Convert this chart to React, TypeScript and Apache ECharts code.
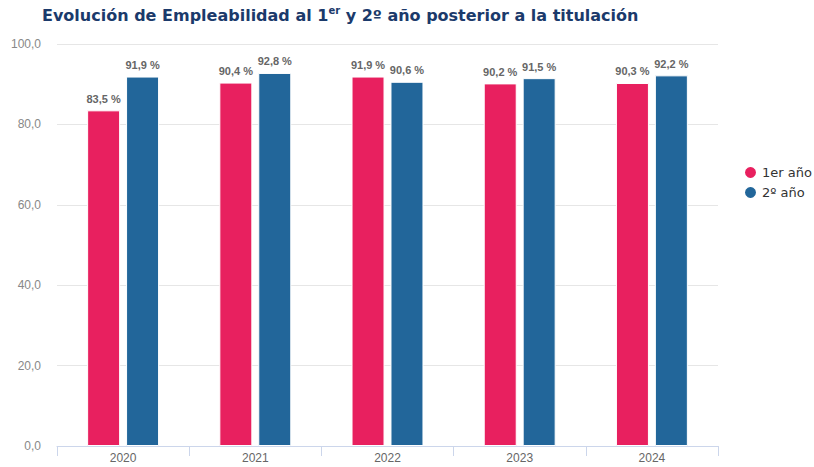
import React, { useEffect, useRef } from "react";
import * as echarts from "echarts";

const categories = ["2020", "2021", "2022", "2023", "2024"];
const firstYear = [83.5, 90.4, 91.9, 90.2, 90.3];
const secondYear = [91.9, 92.8, 90.6, 91.5, 92.2];
const seriesNames = ["1er año", "2º año"];

const fmt = (v: number) => v.toFixed(1).replace(".", ",");

export default function App() {
  const ref = useRef<HTMLDivElement>(null);
  useEffect(() => {
    const chart = echarts.init(ref.current!, null, { renderer: "svg" });
    const label = {
      show: true,
      position: "top" as const,
      distance: 6,
      color: "#666666",
      fontWeight: "bold" as const,
      fontSize: 11,
      fontFamily: "Liberation Sans, Arial, sans-serif",
      formatter: (p: any) => fmt(p.value) + " %",
    };
    chart.setOption({
      animation: false,
      backgroundColor: "#ffffff",
      title: {
        text: "{t|Evolución de Empleabilidad al 1}{s|er}{t| y 2º año posterior a la titulación}",
        left: 37,
        top: 0,
        textStyle: {
          rich: {
            t: {
              fontSize: 16,
              fontWeight: "bold",
              color: "#1b3a6b",
              fontFamily: "DejaVu Sans, Verdana, sans-serif",
              verticalAlign: "bottom",
            },
            s: {
              fontSize: 10,
              fontWeight: "bold",
              color: "#1b3a6b",
              fontFamily: "DejaVu Sans, Verdana, sans-serif",
              verticalAlign: "top",
              padding: [0, 0, 8, 0],
            },
          },
        },
      },
      legend: {
        orient: "vertical",
        left: 738,
        top: 160,
        icon: "circle",
        itemWidth: 13,
        itemHeight: 13,
        itemGap: 5,
        textStyle: {
          color: "#333333",
          fontSize: 13,
          fontFamily: "DejaVu Sans, Verdana, sans-serif",
        },
        data: seriesNames,
      },
      grid: { left: 57, right: 96, top: 44, bottom: 21, containLabel: false },
      xAxis: {
        type: "category",
        data: categories,
        axisLine: { lineStyle: { color: "#ccd6eb" } },
        axisTick: { show: true, length: 10, lineStyle: { color: "#ccd6eb" } },
        axisLabel: {
          color: "#666666",
          fontSize: 12,
          margin: 6,
          fontFamily: "Liberation Sans, Arial, sans-serif",
        },
      },
      yAxis: {
        type: "value",
        min: 0,
        max: 100,
        interval: 20,
        axisLine: { show: false },
        axisTick: { show: false },
        splitLine: { lineStyle: { color: "#e6e6e6" } },
        axisLabel: {
          color: "#888888",
          fontSize: 12,
          margin: 16,
          fontFamily: "Liberation Sans, Arial, sans-serif",
          formatter: (v: number) => fmt(v),
        },
      },
      series: [
        {
          name: seriesNames[0],
          type: "bar",
          data: firstYear,
          barWidth: 33,
          barGap: "18%",
          itemStyle: { color: "#e8205f", borderColor: "#ffffff", borderWidth: 1 },
          label,
        },
        {
          name: seriesNames[1],
          type: "bar",
          data: secondYear,
          barWidth: 33,
          barGap: "18%",
          itemStyle: { color: "#22669a", borderColor: "#ffffff", borderWidth: 1 },
          label,
        },
      ],
    });
    return () => chart.dispose();
  }, []);
  return (
    <div
      ref={ref}
      style={{ position: "absolute", left: 0, top: 0, width: 814, height: 467 }}
    />
  );
}
